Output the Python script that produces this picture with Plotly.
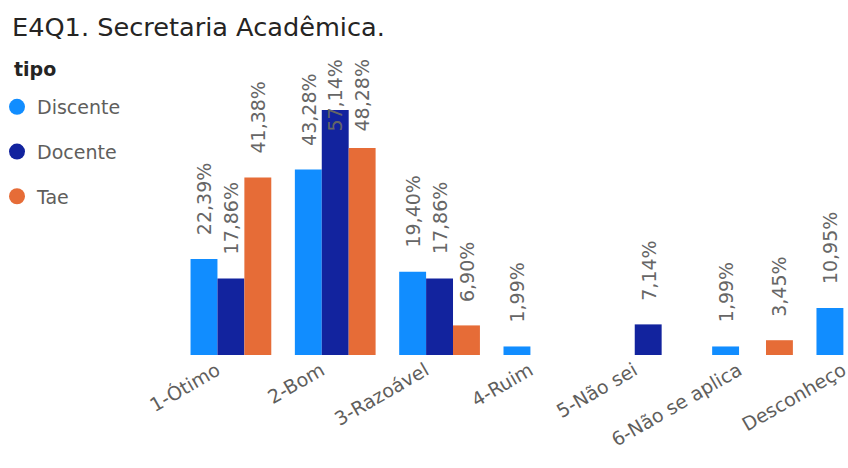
import plotly.graph_objects as go

categories = ["1-Ótimo", "2-Bom", "3-Razoável", "4-Ruim", "5-Não sei", "6-Não se aplica", "Desconheço"]
discente = [22.39, 43.28, 19.40, 1.99, None, 1.99, 10.95]
docente = [17.86, 57.14, 17.86, None, 7.14, None, None]
tae = [41.38, 48.28, 6.90, None, None, 3.45, None]

series = [("Discente", discente, "#118DFF"),
          ("Docente", docente, "#12239E"),
          ("Tae", tae, "#E66C37")]

FONT = "DejaVu Sans"
W, H = 909, 468
plot_left, plot_top, plot_bottom = 178.75, 58, 355
PH = plot_bottom - plot_top
px_per_pct = 245 / 57.14
ymax = PH / px_per_pct
bargap = 0.226
bw = (1 - bargap) / 3


def py(pix):
    # page pixel row -> paper fraction
    return (plot_bottom - pix) / PH


fig = go.Figure()
annotations = []
for k, (name, vals, color) in enumerate(series):
    fig.add_trace(go.Bar(x=categories, y=vals, name=name, marker_color=color,
                         marker_line_width=0, showlegend=False, hoverinfo="skip"))
    fig.add_trace(go.Scatter(x=[None], y=[None], mode="markers", name=name,
                             legendgroup=name,
                             marker=dict(symbol="circle", size=16, color=color)))
    for i, v in enumerate(vals):
        if v is None:
            continue
        annotations.append(dict(
            x=i + (k - 1) * bw, y=min(v + 5.1, 51.7), xref="x", yref="y",
            text=f"{v:.2f}%".replace(".", ","), showarrow=False,
            textangle=-90, xanchor="center", yanchor="bottom",
            font=dict(family=FONT, size=19, color="#666666")))

annotations.append(dict(text="<b>tipo</b>", x=12 / W, y=py(69), xref="paper", yref="paper",
                        xanchor="left", yanchor="middle", showarrow=False,
                        font=dict(family=FONT, size=19, color="#252423")))

fig.update_layout(
    width=W, height=H,
    margin=dict(l=0, r=0, t=plot_top, b=H - plot_bottom, pad=0, autoexpand=False),
    paper_bgcolor="white", plot_bgcolor="white",
    barmode="group", bargap=bargap, bargroupgap=0,
    title=dict(text="E4Q1. Secretaria Acadêmica.", x=12 / W, xanchor="left",
               xref="paper", y=1 - 27 / H, yref="container", yanchor="middle",
               font=dict(family=FONT, size=25.6, color="#252423")),
    legend=dict(x=-3 / W, xanchor="left", y=py(88), yanchor="top",
                traceorder="grouped", tracegroupgap=17,
                font=dict(family=FONT, size=19, color="#605E5C"),
                bgcolor="rgba(0,0,0,0)"),
    xaxis=dict(domain=[plot_left / W, 1], range=[-0.5, 6.5], tickangle=-30,
               showline=False, showgrid=False, zeroline=False, ticks="",
               automargin=False, ticklabelshift=-14,
               tickfont=dict(family=FONT, size=19, color="#605E5C")),
    yaxis=dict(range=[0, ymax], visible=False, showgrid=False, zeroline=False,
               automargin=False),
    annotations=annotations,
    font=dict(family=FONT),
)

fig.write_html("out.html", config={"displayModeBar": False}, post_script=(
    "document.body.style.margin='0';"
    "document.body.style.overflow='hidden';"
    "document.documentElement.style.overflow='hidden';"))
